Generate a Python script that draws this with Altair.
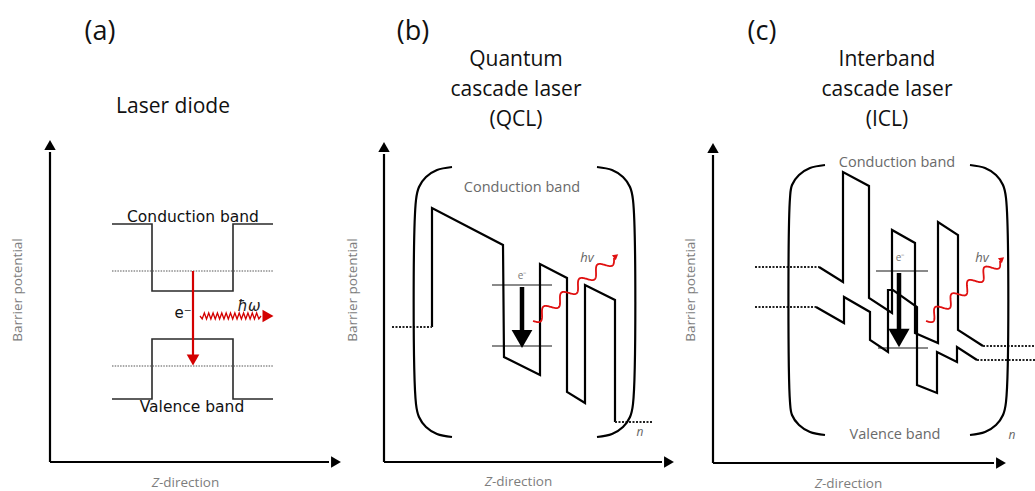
import altair as alt
import numpy as np
import pandas as pd

W, H = 1035, 491
XS = alt.Scale(domain=[0, W], nice=False, zero=False)
YS = alt.Scale(domain=[H, 0], nice=False, zero=False)

# ---------------------------------------------------------------- axes
axes_paths = {
    "a_y": [(50, 462), (50, 152)], "a_x": [(50, 462), (329, 462)],
    "b_y": [(384, 462), (384, 154)], "b_x": [(384, 462), (662, 462)],
    "c_y": [(713, 463), (713, 155)], "c_x": [(713, 463), (994, 463)],
}
# arrow tips: (x, y, shape)
axis_tips = [
    (50, 145, "triangle-up"), (336, 462, "triangle-right"),
    (384, 147, "triangle-up"), (669, 462, "triangle-right"),
    (713, 148, "triangle-up"), (1001, 463, "triangle-right"),
]

# ---------------------------------------------------------------- (a) laser diode
a_bands = {
    "a_cb": [(112, 224), (152, 224), (152, 291), (233, 291), (233, 224), (273, 224)],
    "a_vb": [(112, 399), (152, 399), (152, 339), (233, 339), (233, 399), (273, 399)],
}
a_levels = {
    "a_l1": [(112, 271), (273, 271)],
    "a_l2": [(112, 366), (273, 366)],
}
a_transition = {"a_arrow": [(193, 271), (193, 357)]}
a_photon = (200, 316, 261, 316)  # zigzag start/end

# ---------------------------------------------------------------- (b) QCL
b_profile = {
    "b_cb": [(432, 327), (432, 208), (503, 245), (504, 357), (540, 375), (540, 264),
             (567, 278), (567, 392), (585, 403), (585, 285), (615, 300), (615, 422)],
}
b_dotted = {
    "b_d1": [(392, 327), (432, 327)],
    "b_d2": [(615, 422), (653, 422)],
}
b_states = {
    "b_s1": [(492, 285), (552, 285)],
    "b_s2": [(492, 346), (552, 346)],
}
b_shaft = {"b_shaft": [(522, 287), (522, 331)]}
b_photon = (533, 321, 614, 258)
b_brackets = {
    "b_left": [(452, 167), (437, 170), (426, 177), (419, 187), (416, 200),
               (416, 404), (419, 417), (426, 427), (437, 434), (452, 437)],
    "b_right": [(597, 167), (612, 170), (623, 177), (630, 187), (633, 200),
                (633, 404), (630, 417), (623, 427), (612, 434), (597, 437)],
}

# ---------------------------------------------------------------- (c) ICL
c_profile = {
    "c_cb": [(819, 267), (843, 282), (843, 172), (869, 186), (869, 298), (892, 313),
             (892, 230), (915, 243), (915, 333), (938, 343), (938, 222), (958, 235),
             (958, 330), (983, 346)],
    "c_vb": [(816, 307), (844, 323), (844, 297), (870, 312), (870, 340), (888, 352),
             (888, 290), (893, 290), (917, 307), (917, 385), (937, 393), (937, 352),
             (957, 362), (957, 347), (977, 360)],
}
c_dotted = {
    "c_d1": [(755, 267), (819, 267)],
    "c_d2": [(755, 307), (816, 307)],
    "c_d3": [(983, 346), (1035, 346)],
    "c_d4": [(977, 360), (1035, 360)],
}
c_states = {
    "c_s1": [(876, 271), (928, 271)],
    "c_s2": [(878, 348), (928, 348)],
}
c_shaft = {"c_shaft": [(899, 273), (899, 330)]}
c_photon = (926, 321, 1000, 261)
c_brackets = {
    "c_left": [(825, 165), (810, 168), (799, 175), (792, 185), (790, 198),
               (790, 402), (792, 415), (799, 425), (810, 432), (825, 435)],
    "c_right": [(970, 165), (985, 168), (996, 175), (1003, 185), (1006, 198),
                (1006, 402), (1003, 415), (996, 425), (985, 432), (970, 435)],
}

# arrow heads: (x, y, shape, size, angle, color)
heads = [
    (193, 360, "triangle-down", 160, 0, "#d40000"),
    (268, 316, "triangle-right", 160, 0, "#d40000"),
    (522, 339, "triangle-down", 430, 0, "#000000"),
    (899, 338, "triangle-down", 450, 0, "#000000"),
    (616, 256, "triangle-right", 40, 322, "#e01010"),
    (1002, 259, "triangle-right", 40, 321, "#e01010"),
]

# ---------------------------------------------------------------- text
LABEL_GRAY = "#7d7d7d"
texts = [
    # text, x, y, size, color, font, style, angle
    ("(a)", 100, 32, 27, "#111111", "Open Sans", "normal", 0),
    ("(b)", 413, 32, 27, "#111111", "Open Sans", "normal", 0),
    ("(c)", 762, 32, 27, "#111111", "Open Sans", "normal", 0),
    ("Laser diode", 173, 107, 21, "#111111", "Open Sans", "normal", 0),
    ("Quantum", 516, 60, 21, "#111111", "Open Sans", "normal", 0),
    ("cascade laser", 516, 90, 21, "#111111", "Open Sans", "normal", 0),
    ("(QCL)", 516, 120, 21, "#111111", "Open Sans", "normal", 0),
    ("Interband", 887, 60, 21, "#111111", "Open Sans", "normal", 0),
    ("cascade laser", 887, 90, 21, "#111111", "Open Sans", "normal", 0),
    ("(ICL)", 887, 120, 21, "#111111", "Open Sans", "normal", 0),
    ("Conduction band", 193, 217, 15.5, "#111111", "DejaVu Sans", "normal", 0),
    ("Valence band", 192, 407, 15.5, "#111111", "DejaVu Sans", "normal", 0),
    ("e\u207b", 183, 313, 15, "#111111", "DejaVu Sans", "normal", 0),
    ("\u0127\u03c9", 249, 306, 15, "#222222", "DejaVu Sans", "italic", 0),
    ("Conduction band", 522, 188, 14.5, "#6a6a6a", "Open Sans", "normal", 0),
    ("Conduction band", 897, 163, 14.5, "#6a6a6a", "Open Sans", "normal", 0),
    ("Valence band", 895, 435, 14.5, "#6a6a6a", "Open Sans", "normal", 0),
    ("e\u207b", 522, 276, 10, "#777777", "Open Sans", "normal", 0),
    ("e\u207b", 900, 258, 10, "#777777", "Open Sans", "normal", 0),
    ("hv", 587, 258, 13, "#666666", "Open Sans", "italic", 0),
    ("hv", 982, 258, 13, "#666666", "Open Sans", "italic", 0),
    ("n", 640, 432, 12, "#666666", "Open Sans", "italic", 0),
    ("n", 1012, 435, 12, "#666666", "Open Sans", "italic", 0),
    ("Barrier potential", 18, 290, 13.5, LABEL_GRAY, "Open Sans", "normal", 270),
    ("Barrier potential", 353, 290, 13.5, LABEL_GRAY, "Open Sans", "normal", 270),
    ("Barrier potential", 691, 290, 13.5, LABEL_GRAY, "Open Sans", "normal", 270),
]
# "Z-direction": italic Z followed by upright remainder, split at x
zdir = [(159, 483), (492, 482), (822, 484)]


# ---------------------------------------------------------------- helpers
def path_df(paths):
    rows = []
    for name, pts in paths.items():
        for i, (x, y) in enumerate(pts):
            rows.append({"seg": name, "ord": i, "x": float(x), "y": float(y)})
    return pd.DataFrame(rows)


def lines(paths, **mark):
    return alt.Chart(path_df(paths)).mark_line(**mark).encode(
        x=alt.X("x:Q", scale=XS, axis=None),
        y=alt.Y("y:Q", scale=YS, axis=None),
        detail="seg:N",
        order="ord:Q",
    )


def sine_photon(x0, y0, x1, y1, cycles, amp, n=240):
    t = np.linspace(0, 1, n)
    dx, dy = x1 - x0, y1 - y0
    L = np.hypot(dx, dy)
    nx, ny = -dy / L, dx / L
    s = amp * np.sin(2 * np.pi * cycles * t)
    return list(zip(x0 + dx * t + nx * s, y0 + dy * t + ny * s))


def zigzag_photon(x0, y0, x1, y1, teeth, amp):
    pts = []
    k = 2 * teeth
    for i in range(k + 1):
        t = i / k
        off = 0 if i in (0, k) else (amp if i % 2 else -amp)
        pts.append((x0 + (x1 - x0) * t, y0 + (y1 - y0) * t + off))
    return pts


photons_red = {
    "a_ph": zigzag_photon(*a_photon, teeth=14, amp=3),
}
photons_wave = {
    "b_ph": sine_photon(*b_photon, cycles=4.5, amp=5),
    "c_ph": sine_photon(*c_photon, cycles=4.5, amp=5),
}

layers = [
    lines(axes_paths, color="#000000", strokeWidth=2.2),
    lines(a_bands, color="#2a2a2a", strokeWidth=1.6),
    lines(a_levels, color="#555555", strokeWidth=1.2, strokeDash=[1.5, 1.2]),
    lines(a_transition, color="#d40000", strokeWidth=2.2),
    lines(photons_red, color="#d40000", strokeWidth=1.3),
    lines(b_states, color="#8a8a8a", strokeWidth=2),
    lines(c_states, color="#8a8a8a", strokeWidth=2),
    lines(b_profile, color="#000000", strokeWidth=2.2, strokeJoin="miter"),
    lines(c_profile, color="#000000", strokeWidth=2.2, strokeJoin="miter"),
    lines(b_dotted, color="#222222", strokeWidth=2, strokeDash=[2, 1.5]),
    lines(c_dotted, color="#222222", strokeWidth=2, strokeDash=[2, 1.5]),
    lines(b_brackets, color="#000000", strokeWidth=2.2, interpolate="catmull-rom"),
    lines(c_brackets, color="#000000", strokeWidth=2.2, interpolate="catmull-rom"),
    lines(b_shaft, color="#000000", strokeWidth=4.5),
    lines(c_shaft, color="#000000", strokeWidth=4.5),
    lines(photons_wave, color="#e01010", strokeWidth=1.8),
]

# arrow heads
tips_df = pd.DataFrame(
    [{"x": x, "y": y, "shape": s, "size": 130, "angle": 0, "color": "#000000"}
     for x, y, s in axis_tips]
    + [{"x": x, "y": y, "shape": s, "size": z, "angle": a, "color": c}
       for x, y, s, z, a, c in heads]
)
layers.append(
    alt.Chart(tips_df).mark_point(filled=True, opacity=1, strokeWidth=0).encode(
        x=alt.X("x:Q", scale=XS, axis=None),
        y=alt.Y("y:Q", scale=YS, axis=None),
        shape=alt.Shape("shape:N", scale=None),
        size=alt.Size("size:Q", scale=None),
        angle=alt.Angle("angle:Q", scale=None),
        color=alt.Color("color:N", scale=None),
    )
)

# text layers grouped by font / style / angle
tdf = pd.DataFrame(texts, columns=["text", "x", "y", "size", "color", "font", "style", "angle"])
for (font, style, angle), g in tdf.groupby(["font", "style", "angle"]):
    layers.append(
        alt.Chart(g).mark_text(font=font, fontStyle=style, angle=int(angle),
                               align="center", baseline="middle").encode(
            x=alt.X("x:Q", scale=XS, axis=None),
            y=alt.Y("y:Q", scale=YS, axis=None),
            text="text:N",
            size=alt.Size("size:Q", scale=None),
            color=alt.Color("color:N", scale=None),
        )
    )

zdf = pd.DataFrame(zdir, columns=["x", "y"])
zdf["z"] = "Z"
zdf["rest"] = "-direction"
layers.append(
    alt.Chart(zdf).mark_text(font="Open Sans", fontStyle="italic", fontSize=13.5,
                             color=LABEL_GRAY, align="right", baseline="middle").encode(
        x=alt.X("x:Q", scale=XS, axis=None), y=alt.Y("y:Q", scale=YS, axis=None), text="z:N")
)
layers.append(
    alt.Chart(zdf).mark_text(font="Open Sans", fontSize=13.5, color=LABEL_GRAY,
                             align="left", baseline="middle").encode(
        x=alt.X("x:Q", scale=XS, axis=None), y=alt.Y("y:Q", scale=YS, axis=None), text="rest:N")
)

chart = alt.layer(*layers).properties(
    width=W, height=H, padding=0,
    autosize=alt.AutoSizeParams(type="none"),
).configure_view(stroke=None)

chart.save("out.html", embed_options={"renderer": "svg", "actions": False})
